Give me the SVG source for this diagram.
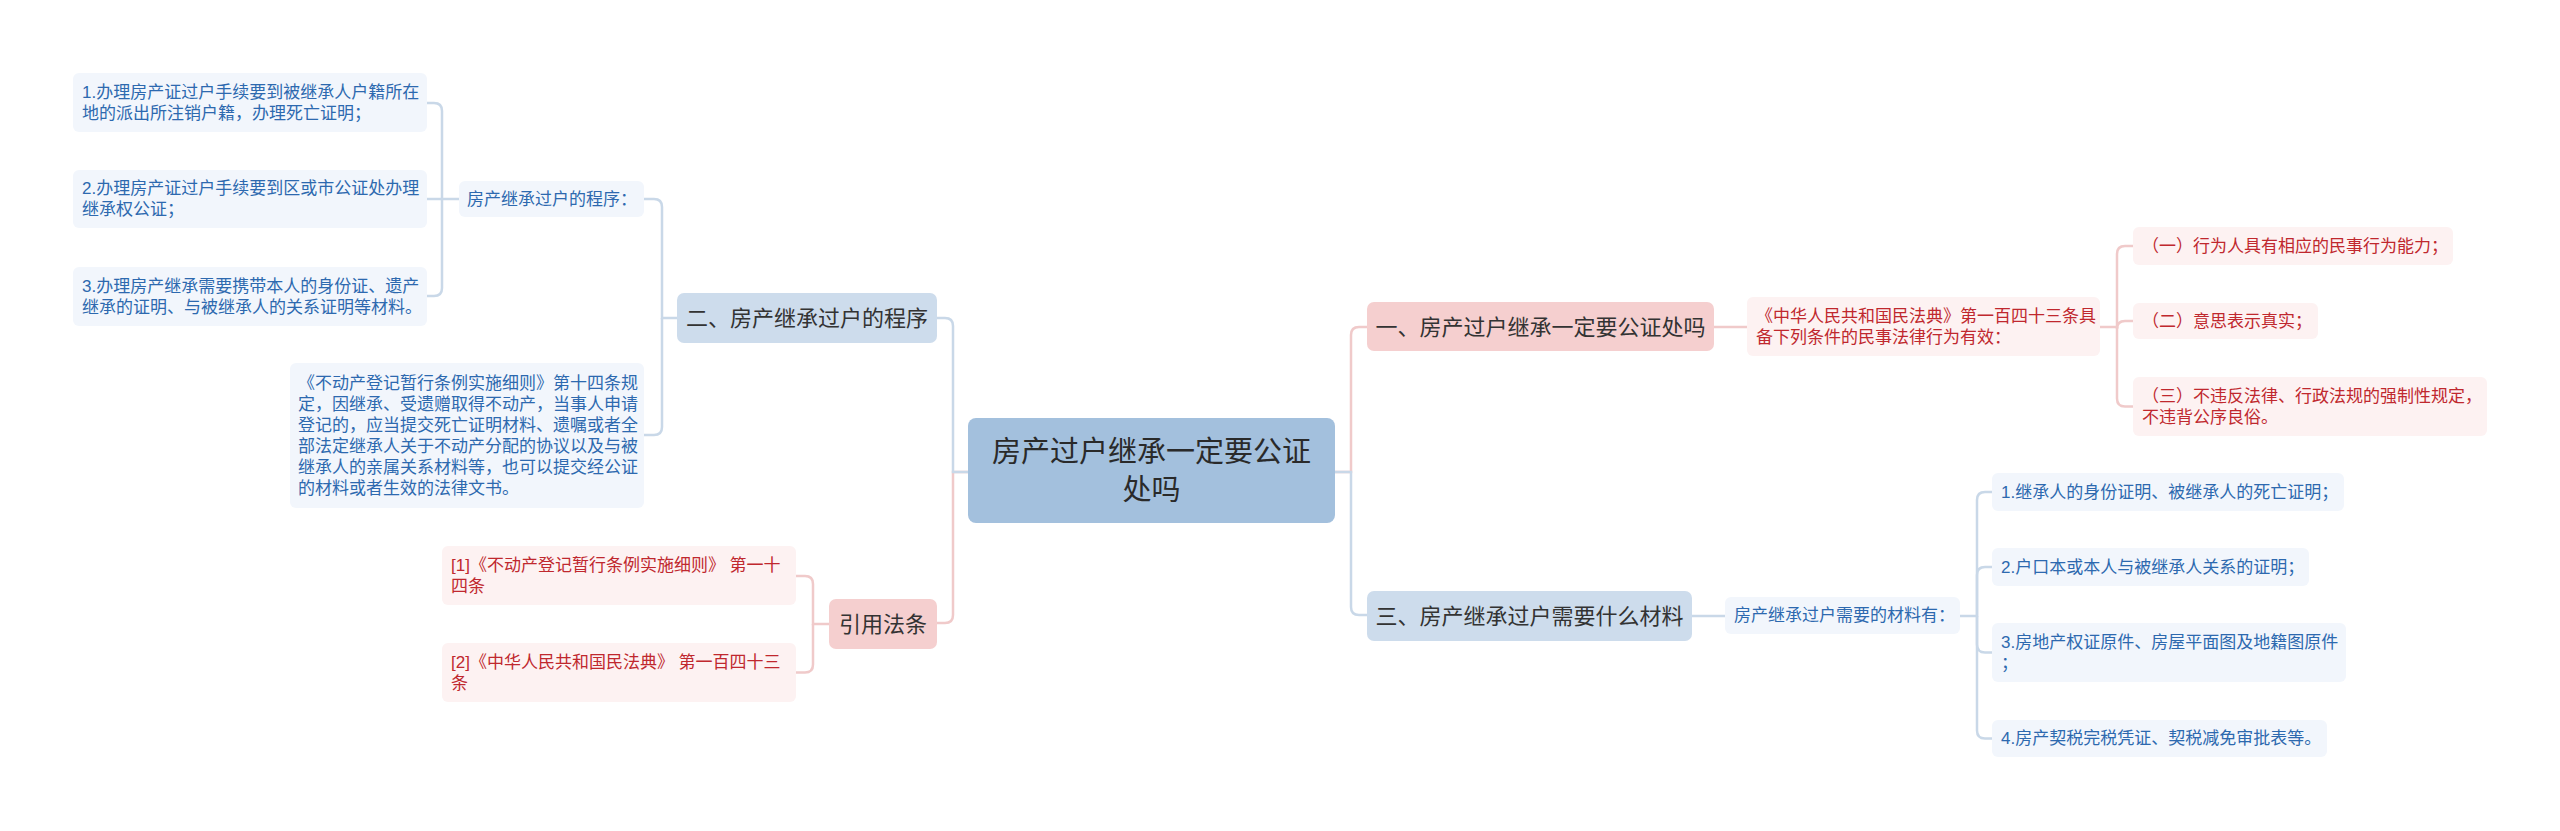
<svg xmlns="http://www.w3.org/2000/svg" width="2560" height="831" viewBox="0 0 2560 831">
<style>
text{font-family:"Liberation Sans","Noto Sans CJK SC",sans-serif;dominant-baseline:central}
.cb{fill:none;stroke:#c9d8e8;stroke-width:2.5}
.cp{fill:none;stroke:#f0caca;stroke-width:2.5}
.lb{fill:#f2f6fc}
.lr{fill:#fdf2f2}
.tb{font-size:17px;fill:#2d69af}
.tr{font-size:17px;fill:#c0282e}
.n1b{fill:#cddcec}
.n1p{fill:#f5cfcf}
.t1{font-size:22px;fill:#333;text-anchor:middle}
.root{fill:#a3c0dd}
.troot{font-size:29px;fill:#2a2a2a;text-anchor:middle}
</style>
<rect width="2560" height="831" fill="#ffffff"/>
<g id="connectors">
<path class="cp" d="M968,472 H953 V615 Q953,623 945,623 H937"/>
<path class="cb" d="M968,472 H953 V326 Q953,318 945,318 H937"/>
<path class="cp" d="M1335,472 H1351 V335 Q1351,327 1359,327 H1367"/>
<path class="cb" d="M1335,472 H1351 V607 Q1351,615 1359,615 H1367"/>
<path class="cb" d="M677,318 H662 V207 Q662,199 654,199 H644"/>
<path class="cb" d="M662,318 V427 Q662,435 654,435 H644"/>
<path class="cb" d="M459,199 H442 V111 Q442,103 434,103 H427"/>
<path class="cb" d="M442,199 H427"/>
<path class="cb" d="M442,199 V288 Q442,296 434,296 H427"/>
<path class="cp" d="M829,624 H813 V584 Q813,576 805,576 H796"/>
<path class="cp" d="M813,624 V664.5 Q813,672.5 805,672.5 H796"/>
<path class="cp" d="M1714,327 H1747"/>
<path class="cp" d="M2100,327 H2117 V254 Q2117,246 2125,246 H2133"/>
<path class="cp" d="M2117,329 Q2117,321 2125,321 H2133"/>
<path class="cp" d="M2117,327 V398.5 Q2117,406.5 2125,406.5 H2133"/>
<path class="cb" d="M1692,616 H1725"/>
<path class="cb" d="M1960,616 H1977 V500 Q1977,492 1985,492 H1992"/>
<path class="cb" d="M1977,616 V575 Q1977,567 1985,567 H1992"/>
<path class="cb" d="M1977,616 V644.5 Q1977,652.5 1985,652.5 H1992"/>
<path class="cb" d="M1977,616 V730.5 Q1977,738.5 1985,738.5 H1992"/>
</g>
<g id="root">
<rect class="root" x="968" y="418" width="367" height="105" rx="8"/>
<text class="troot" x="1151.5" y="452">房产过户继承一定要公证</text>
<text class="troot" x="1151.5" y="490">处吗</text>
</g>
<g id="n-er">
<rect class="n1b" x="677" y="293" width="260" height="50" rx="7"/>
<text class="t1" x="807" y="318">二、房产继承过户的程序</text>
</g>
<g id="n-chengxu">
<rect class="lb" x="459" y="181" width="185" height="36" rx="6"/>
<text class="tb" x="467" y="199">房产继承过户的程序：</text>
</g>
<g id="n-step1">
<rect class="lb" x="73" y="73" width="354" height="59" rx="6"/>
<text class="tb" x="82" y="92">1.办理房产证过户手续要到被继承人户籍所在</text>
<text class="tb" x="82" y="113">地的派出所注销户籍，办理死亡证明；</text>
</g>
<g id="n-step2">
<rect class="lb" x="73" y="170" width="354" height="58" rx="6"/>
<text class="tb" x="82" y="188.5">2.办理房产证过户手续要到区或市公证处办理</text>
<text class="tb" x="82" y="209.5">继承权公证；</text>
</g>
<g id="n-step3">
<rect class="lb" x="73" y="267" width="354" height="59" rx="6"/>
<text class="tb" x="82" y="286">3.办理房产继承需要携带本人的身份证、遗产</text>
<text class="tb" x="82" y="307">继承的证明、与被继承人的关系证明等材料。</text>
</g>
<g id="n-rule14">
<rect class="lb" x="290" y="363" width="354" height="145" rx="6"/>
<text class="tb" x="298" y="383">《不动产登记暂行条例实施细则》第十四条规</text>
<text class="tb" x="298" y="404">定，因继承、受遗赠取得不动产，当事人申请</text>
<text class="tb" x="298" y="425">登记的，应当提交死亡证明材料、遗嘱或者全</text>
<text class="tb" x="298" y="446">部法定继承人关于不动产分配的协议以及与被</text>
<text class="tb" x="298" y="467">继承人的亲属关系材料等，也可以提交经公证</text>
<text class="tb" x="298" y="488">的材料或者生效的法律文书。</text>
</g>
<g id="n-yinyong">
<rect class="n1p" x="829" y="599" width="108" height="50" rx="7"/>
<text class="t1" x="883" y="624">引用法条</text>
</g>
<g id="n-ref1">
<rect class="lr" x="442" y="546" width="354" height="59" rx="6"/>
<text class="tr" x="451" y="565">[1]《不动产登记暂行条例实施细则》 第一十</text>
<text class="tr" x="451" y="586">四条</text>
</g>
<g id="n-ref2">
<rect class="lr" x="442" y="643" width="354" height="59" rx="6"/>
<text class="tr" x="451" y="662">[2]《中华人民共和国民法典》 第一百四十三</text>
<text class="tr" x="451" y="683">条</text>
</g>
<g id="n-yi">
<rect class="n1p" x="1367" y="302" width="347" height="49" rx="7"/>
<text class="t1" x="1540.5" y="327">一、房产过户继承一定要公证处吗</text>
</g>
<g id="n-minfadian">
<rect class="lr" x="1747" y="297" width="353" height="59" rx="6"/>
<text class="tr" x="1756" y="316">《中华人民共和国民法典》第一百四十三条具</text>
<text class="tr" x="1756" y="337">备下列条件的民事法律行为有效：</text>
</g>
<g id="n-c1">
<rect class="lr" x="2133" y="227" width="320" height="38" rx="6"/>
<text class="tr" x="2142" y="246">（一）行为人具有相应的民事行为能力；</text>
</g>
<g id="n-c2">
<rect class="lr" x="2133" y="303" width="185" height="36" rx="6"/>
<text class="tr" x="2142" y="321">（二）意思表示真实；</text>
</g>
<g id="n-c3">
<rect class="lr" x="2133" y="377" width="354" height="59" rx="6"/>
<text class="tr" x="2142" y="396">（三）不违反法律、行政法规的强制性规定，</text>
<text class="tr" x="2142" y="417">不违背公序良俗。</text>
</g>
<g id="n-san">
<rect class="n1b" x="1367" y="591" width="325" height="50" rx="7"/>
<text class="t1" x="1529.5" y="616">三、房产继承过户需要什么材料</text>
</g>
<g id="n-cailiao">
<rect class="lb" x="1725" y="597" width="235" height="37" rx="6"/>
<text class="tb" x="1734" y="615.5">房产继承过户需要的材料有：</text>
</g>
<g id="n-m1">
<rect class="lb" x="1992" y="473" width="352" height="38" rx="6"/>
<text class="tb" x="2001" y="492">1.继承人的身份证明、被继承人的死亡证明；</text>
</g>
<g id="n-m2">
<rect class="lb" x="1992" y="548" width="317" height="38" rx="6"/>
<text class="tb" x="2001" y="567">2.户口本或本人与被继承人关系的证明；</text>
</g>
<g id="n-m3">
<rect class="lb" x="1992" y="623" width="354" height="59" rx="6"/>
<text class="tb" x="2001" y="642">3.房地产权证原件、房屋平面图及地籍图原件</text>
<text class="tb" x="2001" y="663">；</text>
</g>
<g id="n-m4">
<rect class="lb" x="1992" y="720" width="335" height="37" rx="6"/>
<text class="tb" x="2001" y="738.5">4.房产契税完税凭证、契税减免审批表等。</text>
</g>
</svg>
